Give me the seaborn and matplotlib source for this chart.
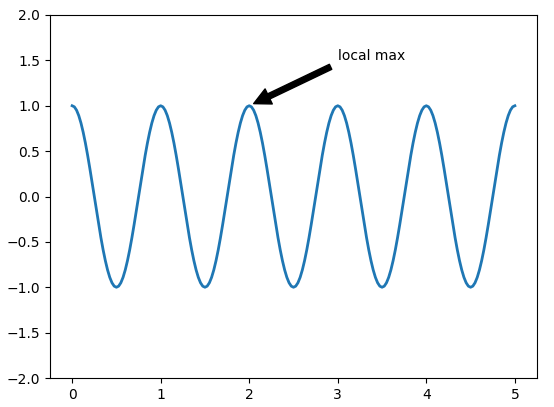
import numpy as np
import pandas as pd
import seaborn as sns
import matplotlib
matplotlib.use("Agg")
import matplotlib.pyplot as plt

# samples, every 0.025 along x
t = [i * 0.025 for i in range(201)]
s = [
    1.0, 0.988, 0.951, 0.891, 0.809, 0.707, 0.588, 0.454, 0.309, 0.156, 0.0, -0.156, -0.309, -0.454, -0.588, -0.707, -0.809, -0.891, -0.951, -0.988,
    -1.0, -0.988, -0.951, -0.891, -0.809, -0.707, -0.588, -0.454, -0.309, -0.156, 0.0, 0.156, 0.309, 0.454, 0.588, 0.707, 0.809, 0.891, 0.951, 0.988,
    1.0, 0.988, 0.951, 0.891, 0.809, 0.707, 0.588, 0.454, 0.309, 0.156, 0.0, -0.156, -0.309, -0.454, -0.588, -0.707, -0.809, -0.891, -0.951, -0.988,
    -1.0, -0.988, -0.951, -0.891, -0.809, -0.707, -0.588, -0.454, -0.309, -0.156, 0.0, 0.156, 0.309, 0.454, 0.588, 0.707, 0.809, 0.891, 0.951, 0.988,
    1.0, 0.988, 0.951, 0.891, 0.809, 0.707, 0.588, 0.454, 0.309, 0.156, 0.0, -0.156, -0.309, -0.454, -0.588, -0.707, -0.809, -0.891, -0.951, -0.988,
    -1.0, -0.988, -0.951, -0.891, -0.809, -0.707, -0.588, -0.454, -0.309, -0.156, 0.0, 0.156, 0.309, 0.454, 0.588, 0.707, 0.809, 0.891, 0.951, 0.988,
    1.0, 0.988, 0.951, 0.891, 0.809, 0.707, 0.588, 0.454, 0.309, 0.156, 0.0, -0.156, -0.309, -0.454, -0.588, -0.707, -0.809, -0.891, -0.951, -0.988,
    -1.0, -0.988, -0.951, -0.891, -0.809, -0.707, -0.588, -0.454, -0.309, -0.156, 0.0, 0.156, 0.309, 0.454, 0.588, 0.707, 0.809, 0.891, 0.951, 0.988,
    1.0, 0.988, 0.951, 0.891, 0.809, 0.707, 0.588, 0.454, 0.309, 0.156, 0.0, -0.156, -0.309, -0.454, -0.588, -0.707, -0.809, -0.891, -0.951, -0.988,
    -1.0, -0.988, -0.951, -0.891, -0.809, -0.707, -0.588, -0.454, -0.309, -0.156, 0.0, 0.156, 0.309, 0.454, 0.588, 0.707, 0.809, 0.891, 0.951, 0.988,
    1.0,
]

peak = (2, 1)
label_pos = (3, 1.5)
label = "local max"

df = pd.DataFrame({"t": t, "s": s})

fig, ax = plt.subplots(figsize=(5.54, 4.07), dpi=100)
fig.subplots_adjust(left=50/554, right=537/554, top=1-15/407, bottom=1-378/407)

sns.lineplot(data=df, x="t", y="s", ax=ax, linewidth=2, color="#1f77b4")
ax.annotate(label, xy=peak, xytext=label_pos,
            arrowprops=dict(facecolor="black", shrink=0.05))
ax.set_ylim(-2, 2)
ax.set_xlabel("")
ax.set_ylabel("")

fig.savefig("out.png", dpi=100)
